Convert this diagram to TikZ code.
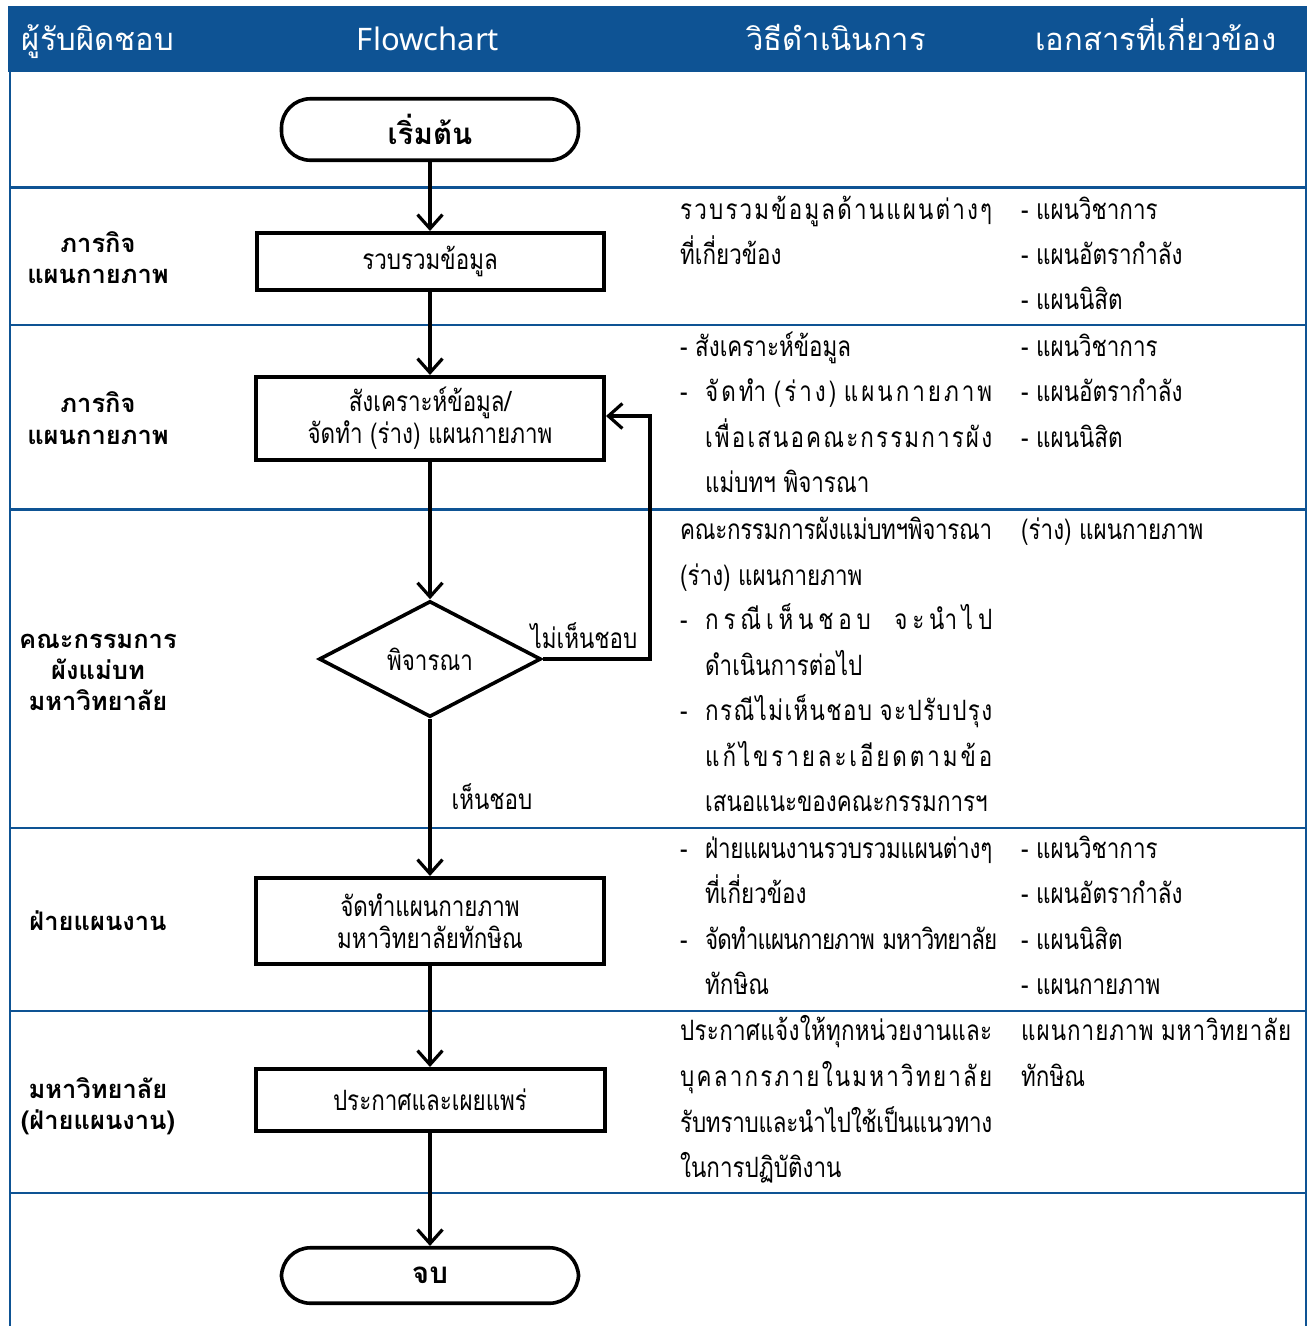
\documentclass[tikz,border=0pt]{standalone}
\usepackage{fontspec}
\usetikzlibrary{arrows.meta,shapes.geometric}
\newfontfamily\thai[Script=Thai,FakeStretch=0.8]{Loma}
\newfontfamily\thaib[Script=Thai]{Loma}
\newfontfamily\latinhead{Noto Sans}
\definecolor{hdrblue}{RGB}{14,83,148}
% ---- letter spacing for distributed Thai lines ----
\newcount\lsi
\lsi="0E01 \loop \XeTeXcharclass\lsi=1 \advance\lsi by 1 \ifnum\lsi<"0E5C \repeat
\XeTeXcharclass"0E31=2
\lsi="0E33 \loop \XeTeXcharclass\lsi=2 \advance\lsi by 1 \ifnum\lsi<"0E3B \repeat
\lsi="0E47 \loop \XeTeXcharclass\lsi=2 \advance\lsi by 1 \ifnum\lsi<"0E4F \repeat
\XeTeXcharclass`(=1
\XeTeXcharclass`)=1
\XeTeXinterchartoks 1 1 = {\lsaction}
\XeTeXinterchartoks 2 1 = {\lsaction}
\newcount\lscnt
\newdimen\lsgap
\def\lscountstep{\global\advance\lscnt by 1\relax}
\def\lskernstep{\kern\lsgap}
\let\lsaction\relax
\newcommand\spaced[2]{{\global\lscnt=0
  \let\lsaction\lscountstep
  \setbox0=\hbox{\XeTeXinterchartokenstate=1 #2}%
  \ifnum\lscnt>0 \lsgap=\dimexpr(#1-\wd0)/\lscnt\relax\else\lsgap=0pt\fi
  \let\lsaction\lskernstep
  \hbox{\XeTeXinterchartokenstate=1 #2}}}
% ---- fonts ----
\newcommand\myboxfont{\thai\fontsize{28}{32}\selectfont}
\newcommand\mycolfont{\thai\fontsize{28}{32}\selectfont}
\newcommand\mylblfont{\thaib\bfseries\fontsize{25.5}{30}\selectfont}
\newcommand\mytermfont{\thaib\bfseries\fontsize{29.5}{32}\selectfont}
\newcommand\myhdrfont{\thaib\fontsize{31}{34}\selectfont}
\tikzset{
  flow/.style={line width=3.2pt,-{Straight Barb[length=14pt,width=25pt,line width=3.2pt]}},
  stepbox/.style={draw,rectangle,line width=4pt,inner sep=0pt,align=center,font=\myboxfont},
  term/.style={draw,rectangle,line width=3.6pt,rounded corners=29pt,inner sep=0pt,font=\mytermfont},
  decide/.style={draw,diamond,aspect=1.9,line width=3.6pt,inner sep=0pt,font=\myboxfont},
  txt/.style={inner sep=0pt,anchor=base west,font=\mycolfont},
  lbl/.style={inner sep=0pt,anchor=base,font=\mylblfont},
  hdr/.style={inner sep=0pt,anchor=base,text=white,font=\myhdrfont},
  grid/.style={draw=hdrblue,line width=2.5pt},
}
\begin{document}
\begin{tikzpicture}[x=1pt,y=-1pt]
\useasboundingbox (0,0) rectangle (1309,1326);
% header
\fill[hdrblue] (8,6) rectangle (1307,72);
\node[hdr] (h1) at (98,50) {ผู้รับผิดชอบ};
\node[hdr,font=\latinhead\fontsize{31}{34}\selectfont] (h2) at (428,50) {Flowchart};
\node[hdr] (h3) at (836,50) {วิธีดำเนินการ};
\node[hdr] (h4) at (1156,50) {เอกสารที่เกี่ยวข้อง};
% table lines
\draw[grid] (10,72) -- (10,1326);
\draw[grid] (1306,72) -- (1306,1326);
\foreach \yy in {187.5,325,509.5,828,1011,1193}{\draw[grid] (10,\yy) -- (1306,\yy);}
% left labels
\node[lbl] (l1a) at (98,252) {ภารกิจ};
\node[lbl] (l1b) at (98,283) {แผนกายภาพ};
\node[lbl] (l2a) at (98,412) {ภารกิจ};
\node[lbl] (l2b) at (98,444) {แผนกายภาพ};
\node[lbl] (l3a) at (98,648) {คณะกรรมการ};
\node[lbl] (l3b) at (98,679) {ผังแม่บท};
\node[lbl] (l3c) at (98,710) {มหาวิทยาลัย};
\node[lbl] (l4a) at (98,930) {ฝ่ายแผนงาน};
\node[lbl] (l5a) at (98,1098) {มหาวิทยาลัย};
\node[lbl] (l5b) at (98,1129) {(ฝ่ายแผนงาน)};
% flowchart
\node[term,minimum width=297pt,minimum height=61.5pt] (start) at (430,129.5) {เริ่มต้น};
\node[stepbox,minimum width=347pt,minimum height=57pt] (box1) at (430,261.5) {รวบรวมข้อมูล};
\node[stepbox,minimum width=348pt,minimum height=83pt] (box2) at (430,418.5) {สังเคราะห์ข้อมูล/\\จัดทำ (ร่าง) แผนกายภาพ};
\node[decide,minimum width=222pt,minimum height=116pt] (dec) at (430,659) {พิจารณา};
\node[stepbox,minimum width=348pt,minimum height=86pt] (box3) at (430,921) {จัดทำแผนกายภาพ\\มหาวิทยาลัยทักษิณ};
\node[stepbox,minimum width=349pt,minimum height=62pt] (box4) at (430,1100) {ประกาศและเผยแพร่};
\node[term,minimum width=297pt,minimum height=55.5pt] (stop) at (430,1275.5) {จบ};
\coordinate (fb) at (650,416);
\draw[flow] (start) -- (box1);
\draw[flow] (box1) -- (box2);
\draw[flow] (box2) -- (dec);
\draw[flow] (dec) -- (box3);
\draw[flow] (box3) -- (box4);
\draw[flow] (box4) -- (stop);
\draw[flow] (dec.east) -| (fb) -- (box2.east |- fb);
\node[inner sep=0pt,font=\myboxfont] (lno) at (584,636) {ไม่เห็นชอบ};
\node[inner sep=0pt,font=\myboxfont] (lyes) at (492,797) {เห็นชอบ};
% column 3 / 4 : row 1
\node[txt] (a1) at (680,219) {\spaced{312pt}{รวบรวมข้อมูลด้านแผนต่างๆ}};
\node[txt] (a2) at (680,264) {ที่เกี่ยวข้อง};
\node[txt] (b1) at (1021,219) {- แผนวิชาการ};
\node[txt] (b2) at (1021,264) {- แผนอัตรากำลัง};
\node[txt] (b3) at (1021,309) {- แผนนิสิต};
% row 2
\node[txt] (c1) at (680,356) {- สังเคราะห์ข้อมูล};
\node[txt] (c2d) at (680,401) {-};
\node[txt] (c2) at (705,401) {\spaced{287pt}{จัดทำ (ร่าง) แผนกายภาพ}};
\node[txt] (c3) at (705,447) {\spaced{287pt}{เพื่อเสนอคณะกรรมการผัง}};
\node[txt] (c4) at (705,492) {แม่บทฯ พิจารณา};
\node[txt] (d1) at (1021,356) {- แผนวิชาการ};
\node[txt] (d2) at (1021,401) {- แผนอัตรากำลัง};
\node[txt] (d3) at (1021,447) {- แผนนิสิต};
% row 3
\node[txt] (e1) at (680,539) {\spaced{312pt}{คณะกรรมการผังแม่บทฯพิจารณา}};
\node[txt] (e2) at (680,585) {(ร่าง) แผนกายภาพ};
\node[txt] (e3d) at (680,629) {-};
\node[txt] (e3) at (705,629) {\spaced{287pt}{กรณีเห็นชอบ\hspace{16pt} จะนำไป}};
\node[txt] (e4) at (705,675) {ดำเนินการต่อไป};
\node[txt] (e5d) at (680,720) {-};
\node[txt] (e5) at (705,720) {\spaced{287pt}{กรณีไม่เห็นชอบ จะปรับปรุง}};
\node[txt] (e6) at (705,766) {\spaced{287pt}{แก้ไขรายละเอียดตามข้อ}};
\node[txt] (e7) at (705,811) {เสนอแนะของคณะกรรมการฯ};
\node[txt] (f1) at (1021,539) {(ร่าง) แผนกายภาพ};
% row 4
\node[txt] (g1d) at (680,858) {-};
\node[txt] (g1) at (705,858) {\spaced{287pt}{ฝ่ายแผนงานรวบรวมแผนต่างๆ}};
\node[txt] (g2) at (705,903) {ที่เกี่ยวข้อง};
\node[txt] (g3d) at (680,949) {-};
\node[txt] (g3) at (705,949) {\spaced{292pt}{จัดทำแผนกายภาพ มหาวิทยาลัย}};
\node[txt] (g4) at (705,994) {ทักษิณ};
\node[txt] (k1) at (1021,858) {- แผนวิชาการ};
\node[txt] (k2) at (1021,903) {- แผนอัตรากำลัง};
\node[txt] (k3) at (1021,949) {- แผนนิสิต};
\node[txt] (k4) at (1021,994) {- แผนกายภาพ};
% row 5
\node[txt] (m1) at (680,1040) {\spaced{312pt}{ประกาศแจ้งให้ทุกหน่วยงานและ}};
\node[txt] (m2) at (680,1086) {\spaced{312pt}{บุคลากรภายในมหาวิทยาลัย}};
\node[txt] (m3) at (680,1132) {\spaced{312pt}{รับทราบและนำไปใช้เป็นแนวทาง}};
\node[txt] (m4) at (680,1177) {ในการปฏิบัติงาน};
\node[txt] (n1) at (1021,1040) {\spaced{270pt}{แผนกายภาพ มหาวิทยาลัย}};
\node[txt] (n2) at (1021,1086) {ทักษิณ};
\end{tikzpicture}
\end{document}
